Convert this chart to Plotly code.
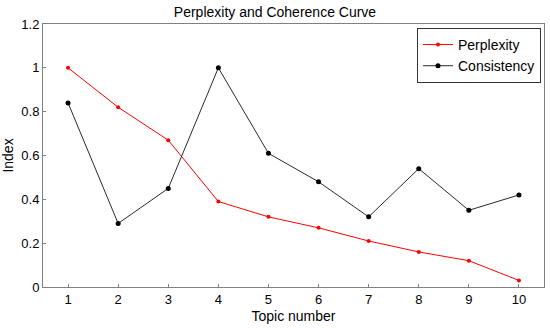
import plotly.graph_objects as go

topics = [1, 2, 3, 4, 5, 6, 7, 8, 9, 10]
perplexity = [1.0, 0.82, 0.67, 0.39, 0.32, 0.27, 0.21, 0.16, 0.12, 0.03]
consistency = [0.84, 0.29, 0.45, 1.0, 0.61, 0.48, 0.32, 0.54, 0.35, 0.42]
y_ticks = [0, 0.2, 0.4, 0.6, 0.8, 1, 1.2]
y_tick_labels = ["0", "0.2", "0.4", "0.6", "0.8", "1", "1.2"]

fig = go.Figure()
fig.add_trace(go.Scatter(x=topics, y=perplexity, mode="lines+markers", name="Perplexity",
                         line=dict(color="#ff0000", width=1),
                         marker=dict(color="#ff0000", size=4, symbol="circle")))
fig.add_trace(go.Scatter(x=topics, y=consistency, mode="lines+markers", name="Consistency",
                         line=dict(color="#2a2a2a", width=1),
                         marker=dict(color="#000000", size=5, symbol="circle")))

font = "Liberation Sans, Arial, sans-serif"
fig.update_layout(
    width=550, height=328,
    margin=dict(l=43, r=6, t=24, b=41),
    paper_bgcolor="white", plot_bgcolor="white",
    font=dict(family=font, color="black", size=13),
    title=dict(text="Perplexity and Coherence Curve", x=0.5, xanchor="center",
               y=1 - 12 / 328, yanchor="middle", font=dict(size=14)),
    showlegend=True,
    legend=dict(x=0.994, y=0.985, xanchor="right", yanchor="top",
                bordercolor="#333333", borderwidth=1, bgcolor="white",
                font=dict(size=14), tracegroupgap=0, itemwidth=30),
    xaxis=dict(range=[0.5, 10.5], tickvals=topics, showgrid=False, zeroline=False,
               showline=True, linecolor="#808080", linewidth=1, mirror=True,
               ticks="inside", ticklen=3, tickcolor="#808080",
               title=dict(text="Topic number", font=dict(size=14), standoff=5),
               tickfont=dict(size=13), automargin=False),
    yaxis=dict(range=[0, 1.2], tickvals=y_ticks, ticktext=y_tick_labels, showgrid=False,
               zeroline=False, showline=True, linecolor="#808080", linewidth=1, mirror=True,
               ticks="inside", ticklen=3, tickcolor="#808080",
               title=dict(text="Index", font=dict(size=14), standoff=7),
               tickfont=dict(size=13), automargin=False),
)
fig.write_html("out.html", config={"displayModeBar": False},
               post_script="document.body.style.margin='0';document.body.style.padding='0';")
